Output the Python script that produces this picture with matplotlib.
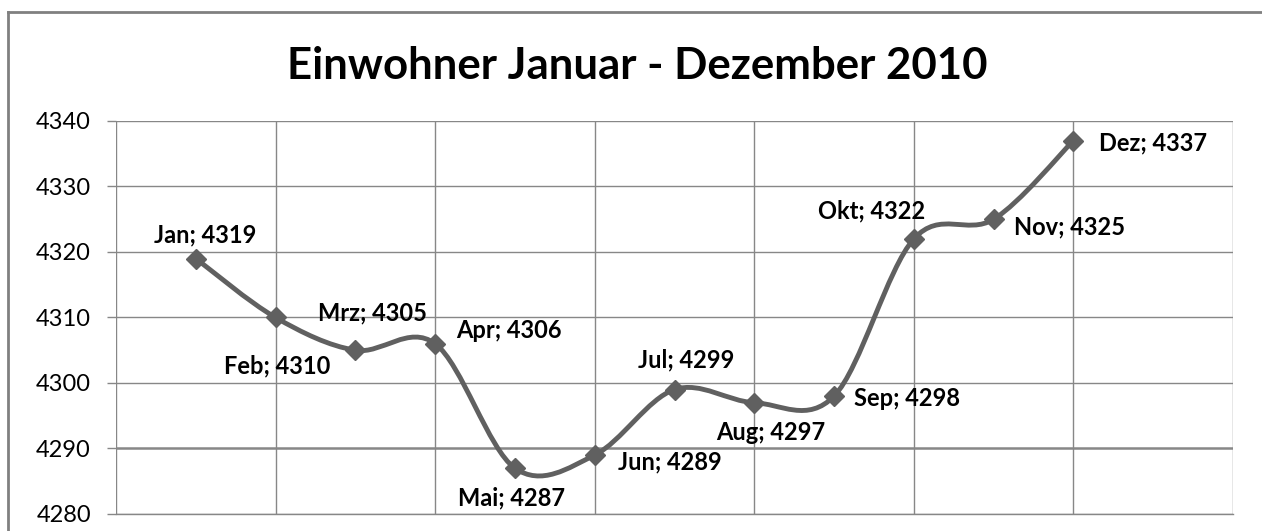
import matplotlib
matplotlib.use("Agg")
import matplotlib.pyplot as plt
from matplotlib.path import Path
from matplotlib.patches import PathPatch
from matplotlib.lines import Line2D
import numpy as np

months = ["Jan", "Feb", "Mrz", "Apr", "Mai", "Jun", "Jul", "Aug", "Sep", "Okt", "Nov", "Dez"]
values = [4319, 4310, 4305, 4306, 4287, 4289, 4299, 4297, 4298, 4322, 4325, 4337]
yticks = [4280, 4290, 4300, 4310, 4320, 4330, 4340]
title = "Einwohner Januar - Dezember 2010"
# label offsets in pixels (dx, dy) relative to each point
label_offsets = [(9, 24), (2, -48), (17, 37), (74, 13), (-3, -30), (75, -7),
                 (12, 30), (16, -30), (73, -2), (-42, 28), (76, -8), (80, -2)]

plt.rcParams['font.family'] = ['Lato', 'DejaVu Sans']

fig = plt.figure(figsize=(12.62, 5.31), dpi=100)
ax = fig.add_axes([116/1262, 1-514/531, (1233-116)/1262, (514-121)/531])

x = np.arange(len(values))
y = np.array(values, dtype=float)

# Excel-like smoothed line (Catmull-Rom as cubic Bezier)
verts = [(x[0], y[0])]
codes = [Path.MOVETO]
n = len(x)
for i in range(n - 1):
    p0 = np.array([x[max(i-1, 0)], y[max(i-1, 0)]])
    p1 = np.array([x[i], y[i]])
    p2 = np.array([x[i+1], y[i+1]])
    p3 = np.array([x[min(i+2, n-1)], y[min(i+2, n-1)]])
    c1 = p1 + (p2 - p0) / 6.0
    c2 = p2 - (p3 - p1) / 6.0
    verts += [tuple(c1), tuple(c2), tuple(p2)]
    codes += [Path.CURVE4, Path.CURVE4, Path.CURVE4]
line_color = "#606060"
ax.add_patch(PathPatch(Path(verts, codes), facecolor="none", edgecolor=line_color,
                       linewidth=3.5, zorder=3, capstyle="round", joinstyle="round"))
ax.plot(x, y, linestyle="none", marker="D", markersize=10, color=line_color,
        markeredgecolor=line_color, zorder=4)

for xi, yi, m, (dx, dy) in zip(x, y, months, label_offsets):
    ax.annotate(f"{m}; {int(yi)}", (xi, yi), xytext=(dx, dy), textcoords="offset pixels",
                ha="center", va="center", fontsize=17, fontweight="bold", color="black",
                zorder=5)

ax.set_xlim(-1, 13)
ax.set_ylim(4280, 4340)
ax.set_yticks(yticks)
ax.set_xticks([-1, 1, 3, 5, 7, 9, 11, 13])
ax.tick_params(axis="x", length=0, labelbottom=False)
ax.tick_params(axis="y", length=6.5, width=1, color="#878787", labelsize=17, pad=11.5,
               labelcolor="black")
ax.grid(True, color="#878787", linewidth=1.0)
ax.set_axisbelow(True)
# the 4290 gridline is drawn slightly heavier in the reference
ygl = ax.get_ygridlines()
ygl[1].set_linewidth(1.8)
for side in ["top", "right", "left"]:
    ax.spines[side].set_visible(False)
ax.spines["bottom"].set_color("#878787")
ax.spines["bottom"].set_linewidth(1.0)
for t in ax.get_yticklabels():
    t.set_fontweight("normal")

fig.text((287+988)/2/1262, 1-66/531, title, ha="center", va="center",
         fontsize=31.5, fontweight="bold", color="black")

# outer chart frame (top and left edges visible)
fig.add_artist(Line2D([8/1262, 1.0], [1-12/531, 1-12/531], transform=fig.transFigure,
                      color="#808080", linewidth=2))
fig.add_artist(Line2D([8/1262, 8/1262], [0, 1-12/531], transform=fig.transFigure,
                      color="#808080", linewidth=2))

fig.savefig("out.png", dpi=100)
